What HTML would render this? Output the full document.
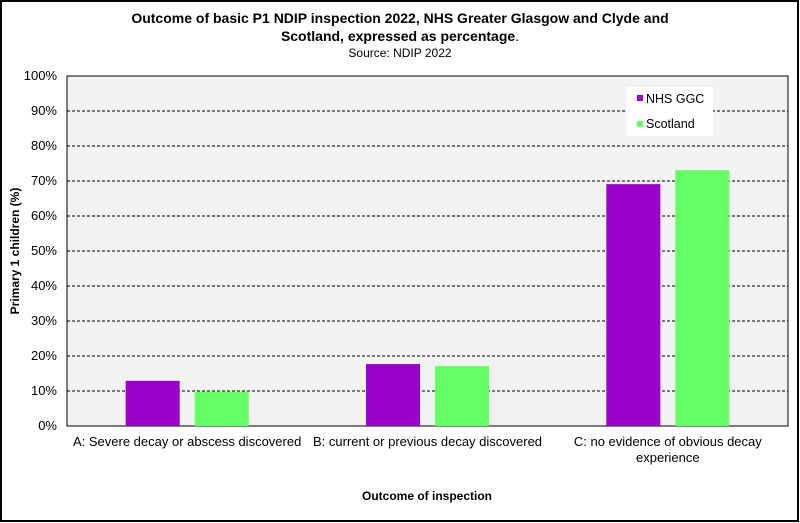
<!DOCTYPE html>
<html><head><meta charset="utf-8"><style>
body{margin:0;background:#fff;}
svg{display:block;font-family:"Liberation Sans",Arial,sans-serif;}
</style></head><body>
<svg id="chart" width="800" height="523">
<rect x="1" y="1" width="797" height="520" fill="#fff" stroke="#000" stroke-width="2"/>
<text x="400" y="23" text-anchor="middle" font-size="14" font-weight="bold">Outcome of basic P1 NDIP inspection 2022, NHS Greater Glasgow and Clyde and</text>
<text x="400" y="41" text-anchor="middle" font-size="14" font-weight="bold">Scotland, expressed as percentage<tspan font-weight="normal">.</tspan></text>
<text x="400" y="57" text-anchor="middle" font-size="12">Source: NDIP 2022</text>
<rect x="67" y="76" width="721" height="350" fill="#f2f2f2" stroke="#000" stroke-width="1"/>
<g id="grid"></g><g id="yticks"></g><g id="bars"></g><g id="xlabels"></g>
<text transform="translate(19,251) rotate(-90)" text-anchor="middle" font-size="12" font-weight="bold">Primary 1 children (%)</text>
<text x="427" y="500" text-anchor="middle" font-size="12" font-weight="bold">Outcome of inspection</text>
<g>
<rect x="627" y="87" width="86" height="49" fill="#fff"/>
<rect x="637" y="95" width="6" height="6" fill="#9900cc"/>
<text x="646" y="103" font-size="12.5">NHS GGC</text>
<rect x="637" y="121" width="6" height="6" fill="#66ff66"/>
<text x="646" y="128" font-size="12.5">Scotland</text>
</g>
</svg>
<script>
const categories=[["A: Severe decay or abscess discovered"],["B: current or previous decay discovered"],["C: no evidence of obvious decay","experience"]];
const ggcValues=[12.9,17.7,69.1];
const scotlandValues=[9.8,17.1,73.1];
const yTicks=[0,10,20,30,40,50,60,70,80,90,100];
const NS="http://www.w3.org/2000/svg";
const L=67,R=788,T=76,B=426;
const y=v=>B-(v/100)*(B-T);
const cw=(R-L)/categories.length;
const xc=i=>L+cw*(i+0.5);
function mk(t,a,p){const e=document.createElementNS(NS,t);for(const k in a)e.setAttribute(k,a[k]);p.appendChild(e);return e;}
const g=document.getElementById('grid'),yt=document.getElementById('yticks'),bars=document.getElementById('bars'),xl=document.getElementById('xlabels');
yTicks.forEach(v=>{
 if(v>0&&v<100){const l=mk('line',{x1:L,x2:R,y1:y(v),y2:y(v),stroke:'#000','stroke-dasharray':'3,2','stroke-width':1},g);
 
 }
 const t=mk('text',{x:L-10,y:y(v)+4,'text-anchor':'end','font-size':13},yt);t.textContent=v+'%';
 
 
});
const bw=54,gap=15;
categories.forEach((c,i)=>{
 const b1=mk('rect',{x:xc(i)-gap/2-bw,y:y(ggcValues[i]),width:bw,height:B-y(ggcValues[i]),fill:'#9900cc'},bars);
 
 
 const b2=mk('rect',{x:xc(i)+gap/2,y:y(scotlandValues[i]),width:bw,height:B-y(scotlandValues[i]),fill:'#66ff66'},bars);
 
 
 c.forEach((line,j)=>{const t=mk('text',{x:xc(i),y:446+j*16,'text-anchor':'middle','font-size':13},xl);t.textContent=line;
 
 });
});
</script>
</body></html>
